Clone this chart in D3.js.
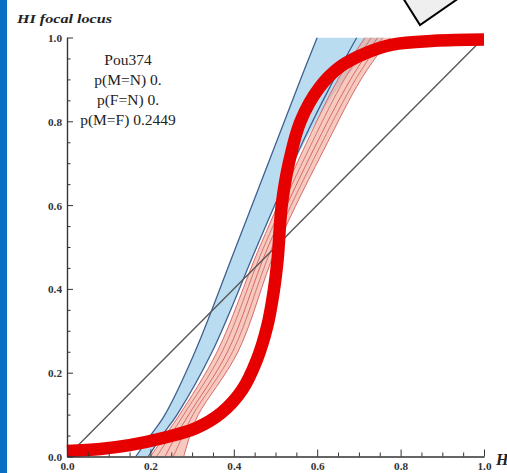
<!DOCTYPE html>
<html><head><meta charset="utf-8">
<script src="https://cdn.jsdelivr.net/npm/d3@7"></script>
<style>html,body{margin:0;padding:0;background:#fff;}svg{display:block;}</style>
</head><body>
<svg id="c" width="507" height="473"></svg>
<script>
// ---- data ----
const title = "HI focal locus";
const xLabel = "H";
const infoLines = ["Pou374", "p(M=N) 0.", "p(F=N) 0.", "p(M=F) 0.2449"];
const majorTicks = [0, 0.2, 0.4, 0.6, 0.8, 1.0];
const tickLabels = ["0.0", "0.2", "0.4", "0.6", "0.8", "1.0"];
const minorTicks = [0.05,0.1,0.15,0.25,0.3,0.35,0.45,0.5,0.55,0.65,0.7,0.75,0.85,0.9,0.95];

// band curves: x position at each y level
const levels     = [0, 0.05, 0.1, 0.25, 0.5, 0.75, 0.9, 1.0];
const blueLower  = [0.165, 0.200, 0.235, 0.307, 0.405, 0.502, 0.560, 0.600];
const blueUpper  = [0.195, 0.228, 0.264, 0.348, 0.455, 0.565, 0.640, 0.695];
const blueShadeR = [0.195, 0.228, 0.264, 0.348, 0.455, 0.570, 0.665, 0.760];
const red1 = [0.200, 0.235, 0.270, 0.360, 0.462, 0.575, 0.650, 0.715];
const red2 = [0.215, 0.248, 0.280, 0.372, 0.472, 0.588, 0.665, 0.730];
const red3 = [0.235, 0.262, 0.292, 0.385, 0.482, 0.600, 0.680, 0.745];
const red4 = [0.255, 0.278, 0.302, 0.397, 0.492, 0.612, 0.692, 0.758];
const red5 = [0.280, 0.295, 0.315, 0.410, 0.503, 0.625, 0.705, 0.775];

// thick red cline curve
const curveX = [0, 0.08, 0.15, 0.23, 0.31, 0.37, 0.42, 0.455, 0.48, 0.495, 0.505, 0.515, 0.532, 0.56, 0.605, 0.655, 0.72, 0.78, 0.88, 1.0];
const curveY = [0.013, 0.018, 0.027, 0.044, 0.068, 0.104, 0.159, 0.23, 0.31, 0.39, 0.47, 0.6, 0.7, 0.8, 0.88, 0.93, 0.964, 0.983, 0.992, 0.995];

// diagonal reference
const diagX = [0, 1];
const diagY = [0, 1];

// ---- drawing ----
const FONT = "'Liberation Serif', 'Times New Roman', serif";
const svg = d3.select("#c");
const x = d3.scaleLinear().domain([0, 1]).range([67, 484]);
const y = d3.scaleLinear().domain([0, 1]).range([456.5, 37.5]);

// blue strip on left
svg.append("rect").attr("x", 0).attr("y", 0).attr("width", 7).attr("height", 473).attr("fill", "#0b6fc4");

svg.append("defs").append("clipPath").attr("id", "plotclip")
  .append("rect").attr("x", x(0)).attr("y", y(1)).attr("width", x(1) - x(0)).attr("height", y(0) - y(1));

const g = svg.append("g").attr("clip-path", "url(#plotclip)");

const pts = arr => arr.map((v, i) => ({x: v, y: levels[i]}));
const vline = d3.line().x(d => x(d.x)).y(d => y(d.y)).curve(d3.curveCatmullRom.alpha(0.5));
const area = (left, right) => {
  const a = pts(left), b = pts(right).reverse();
  return vline(a) + "L" + vline(b).slice(1) + "Z";
};

// shaded bands
g.append("path").attr("d", area(blueLower, blueShadeR)).attr("fill", "#b3d8f0").attr("opacity", 0.9);
g.append("path").attr("d", area(red1, red5)).attr("fill", "#f3a592").attr("opacity", 0.6);

// band lines
[red1, red2, red3, red4, red5].forEach((r, i) => {
  g.append("path").attr("d", vline(pts(r))).attr("fill", "none")
    .attr("stroke", i % 2 ? "#c86a6a" : "#cf5656").attr("stroke-width", 1).attr("opacity", 0.85);
});
[blueLower, blueUpper].forEach(b => {
  g.append("path").attr("d", vline(pts(b))).attr("fill", "none")
    .attr("stroke", "#41608f").attr("stroke-width", 1.3);
});

// diagonal
g.append("path").attr("d", d3.line().x(d => x(d[0])).y(d => y(d[1]))(diagX.map((v, i) => [v, diagY[i]])))
  .attr("stroke", "#555").attr("stroke-width", 1.3).attr("fill", "none");

// thick red curve
svg.append("path")
  .attr("d", d3.line().x(d => x(d[0])).y(d => y(d[1])).curve(d3.curveCatmullRom.alpha(0.5))(curveX.map((v, i) => [v, curveY[i]])))
  .attr("fill", "none").attr("stroke", "#e60000").attr("stroke-width", 12.5).attr("stroke-linecap", "butt");

// axes
const fmt = d => tickLabels[majorTicks.indexOf(d)];
const yAx = svg.append("g").attr("transform", `translate(${x(0)},0)`)
  .call(d3.axisLeft(y).tickValues(majorTicks).tickFormat(fmt).tickSize(-6).tickSizeOuter(0).tickPadding(5));
const yMin = svg.append("g").attr("transform", `translate(${x(0)},0)`)
  .call(d3.axisLeft(y).tickValues(minorTicks).tickFormat("").tickSize(-3.5).tickSizeOuter(0));
const xAx = svg.append("g").attr("transform", `translate(0,${y(0)})`)
  .call(d3.axisBottom(x).tickValues(majorTicks).tickFormat(fmt).tickSize(-7).tickSizeOuter(0).tickPadding(4));
const xMin = svg.append("g").attr("transform", `translate(0,${y(0)})`)
  .call(d3.axisBottom(x).tickValues(minorTicks).tickFormat("").tickSize(-4).tickSizeOuter(0));
[yAx, yMin, xAx, xMin].forEach(a => {
  a.selectAll("path.domain").attr("stroke", "#333").attr("stroke-width", 1.2);
  a.selectAll(".tick line").attr("stroke", "#333").attr("stroke-width", 1);
  a.selectAll(".tick text").attr("fill", "#333").attr("font-family", FONT)
    .attr("font-size", 10).attr("font-weight", "bold").attr("textLength", 14).attr("lengthAdjust", "spacingAndGlyphs");
});
xAx.selectAll(".tick text").attr("dy", "0.95em");
yAx.selectAll(".tick text").attr("dy", "0.4em");

// title
svg.append("text").attr("x", 17).attr("y", 23).text(title)
  .attr("font-family", FONT).attr("font-style", "italic").attr("font-weight", "bold")
  .attr("font-size", 13).attr("fill", "#222").attr("textLength", 95).attr("lengthAdjust", "spacingAndGlyphs");
// x label
svg.append("text").attr("x", 496).attr("y", 465).text(xLabel)
  .attr("font-family", FONT).attr("font-style", "italic").attr("font-weight", "bold")
  .attr("font-size", 16).attr("fill", "#222");

// info text
svg.append("g").selectAll("text").data(infoLines).join("text")
  .attr("x", 128).attr("y", (d, i) => 65 + i * 20).attr("text-anchor", "middle")
  .attr("font-family", FONT).attr("font-size", 15.5).attr("fill", "#222")
  .text(d => d);

// decorative callout triangle at top
svg.append("polygon").attr("points", "403,-2 420,25 459,-2")
  .attr("fill", "#efefef").attr("stroke", "#000").attr("stroke-width", 2);
</script>
</body></html>
